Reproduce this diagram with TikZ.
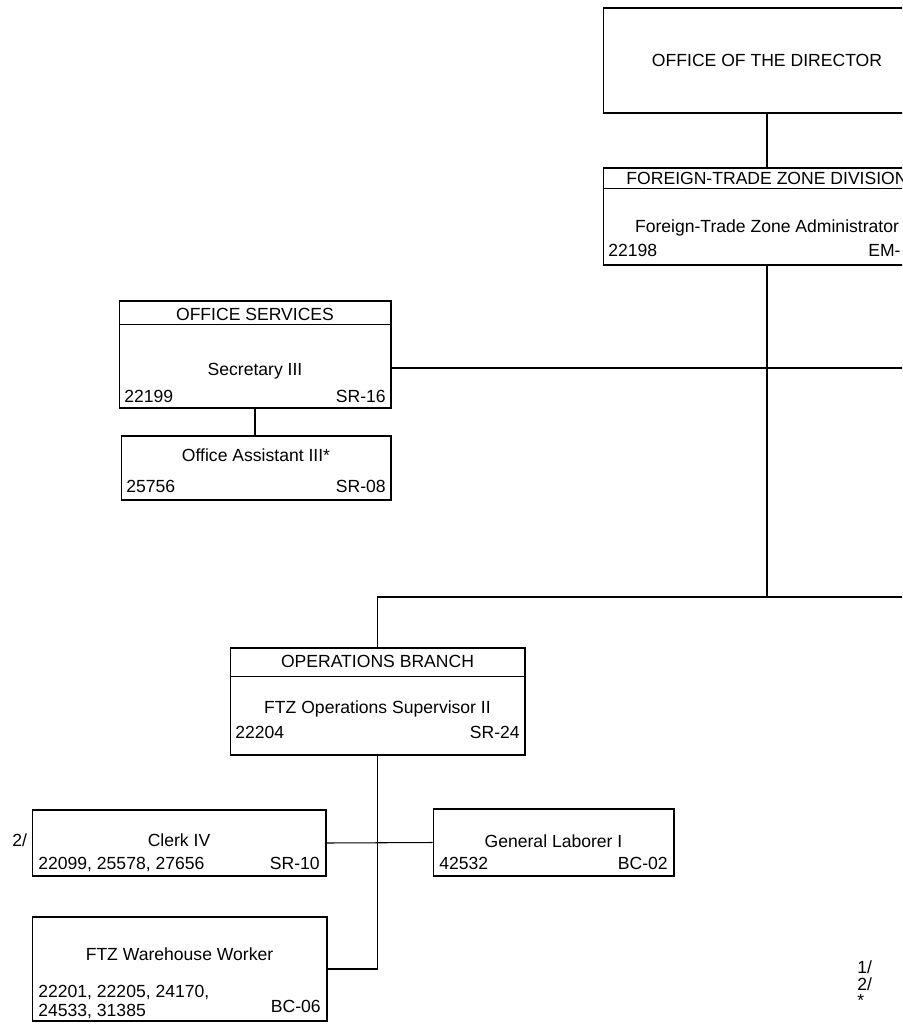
\documentclass[tikz,border=0pt]{standalone}
\usepackage{fontspec}
\setmainfont{Liberation Sans}
\tikzset{
	box/.style={draw, line width=0.6pt, inner sep=0pt},
	link/.style={line width=0.6pt},
	lbl/.style={inner sep=0pt, anchor=base, font=\fontsize{10}{12}\selectfont},
	lft/.style={lbl, anchor=base west},
	rgt/.style={lbl, anchor=base east}
}
\begin{document}
\begin{tikzpicture}[x=0.02cm, y=-0.02cm]
	\useasboundingbox (0,0) rectangle (902,1026);
	\clip (0,0) rectangle (902,1026);
	\node[box, minimum width=6.56cm, minimum height=2.10cm] (dir) at (767,60.5) {};
	\node[lbl] (dirt) at (767,67) {OFFICE OF THE DIRECTOR};
	\node[box, minimum width=6.56cm, minimum height=1.94cm] (div) at (767,216.5) {};
	\draw[link] ([yshift=-0.42cm]div.north west) -- ([yshift=-0.42cm]div.north east);
	\node[lbl] (divhead) at (767,185) {FOREIGN-TRADE ZONE DIVISION};
	\node[lbl] (divpos) at (767,233) {Foreign-Trade Zone Administrator};
	\node[lft] (divnum) at (608,257) {22198};
	\node[lft] (divgrd) at (868,257) {EM-};
	\node[box, minimum width=5.44cm, minimum height=2.14cm] (svc) at (255,354.5) {};
	\draw[link] ([yshift=-0.48cm]svc.north west) -- ([yshift=-0.48cm]svc.north east);
	\node[lbl] (svchead) at (255,321) {OFFICE SERVICES};
	\node[lbl] (svcpos) at (255,376) {Secretary III};
	\node[lft] (svcnum) at (124,402) {22199};
	\node[rgt] (svcgrd) at (386,402) {SR-16};
	\node[box, minimum width=5.40cm, minimum height=1.28cm] (asst) at (256,468) {};
	\node[lbl] (asstpos) at (256,461) {Office Assistant III*};
	\node[lft] (asstnum) at (126,492) {25756};
	\node[rgt] (asstgrd) at (386,492) {SR-08};
	\node[box, minimum width=5.90cm, minimum height=2.14cm] (ops) at (377.5,701.5) {};
	\draw[link] ([yshift=-0.58cm]ops.north west) -- ([yshift=-0.58cm]ops.north east);
	\node[lbl] (opshead) at (377.5,667) {OPERATIONS BRANCH};
	\node[lbl] (opspos) at (377.5,713) {FTZ Operations Supervisor II};
	\node[lft] (opsnum) at (235,738) {22204};
	\node[rgt] (opsgrd) at (520,738) {SR-24};
	\node[box, minimum width=5.88cm, minimum height=1.32cm] (clerk) at (179,843) {};
	\node[lbl] (clerkpos) at (179,846) {Clerk IV};
	\node[lft] (clerknum) at (38,869) {22099, 25578, 27656};
	\node[rgt] (clerkgrd) at (320,869) {SR-10};
	\node[lft] (clerknote) at (12,846) {2/};
	\node[box, minimum width=4.82cm, minimum height=1.34cm] (lab) at (553.5,842.5) {};
	\node[lbl] (labpos) at (553.5,847) {General Laborer I};
	\node[lft] (labnum) at (439,869) {42532};
	\node[rgt] (labgrd) at (668,869) {BC-02};
	\node[box, minimum width=5.90cm, minimum height=2.08cm] (wh) at (179.5,969) {};
	\node[lbl] (whpos) at (179.5,960) {FTZ Warehouse Worker};
	\node[lft] (whnuma) at (38,997) {22201, 22205, 24170,};
	\node[lft] (whnumb) at (38,1016) {24533, 31385};
	\node[rgt] (whgrd) at (321,1012) {BC-06};
	\node[lft] (notea) at (857,973) {1/};
	\node[lft] (noteb) at (857,990) {2/};
	\node[lft] (notec) at (857,1006) {*};
	\coordinate (svcend) at (910,368);
	\coordinate (opsend) at (910,597);
	\draw[link] (dir.south) -- (div.north);
	\draw[link] (div.south) -- (div.south |- opsend);
	\draw[link] (svc.east |- svcend) -- (svcend);
	\draw[link] (ops.north) |- (opsend);
	\draw[link] (svc.south) -- (svc.south |- asst.north);
	\draw[link] (clerk.east) -- (lab.west);
	\draw[link] (ops.south) |- (wh.east);
\end{tikzpicture}
\end{document}
